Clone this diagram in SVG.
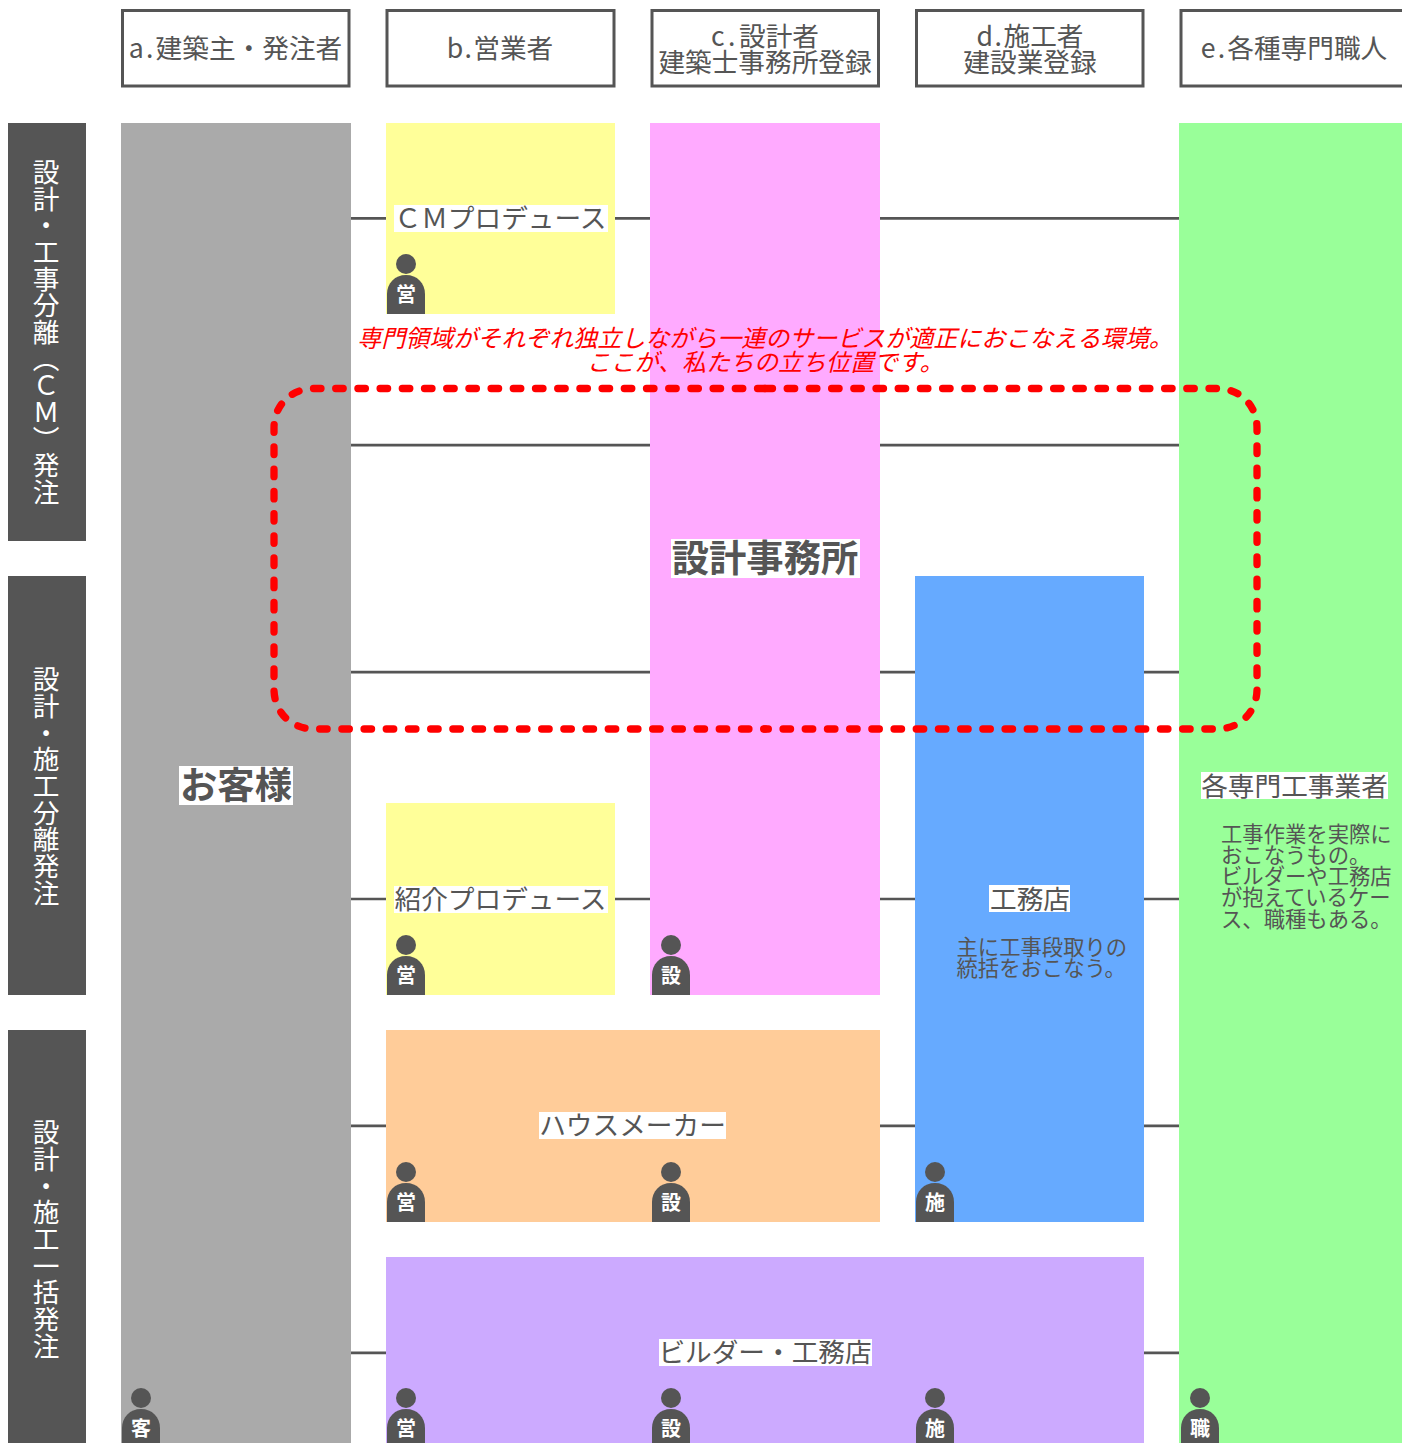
<svg xmlns="http://www.w3.org/2000/svg" width="1402" height="1443" viewBox="0 0 1402 1443">
<style>
text{font-family:"Noto Sans CJK JP","Noto Sans",sans-serif;fill:#555;text-anchor:middle;font-size:26.67px}
.hd{fill:#fff;stroke:#555;stroke-width:3}
.bar{fill:#555}
.vt{fill:#fff;writing-mode:vertical-rl}
.lbl{fill:#fff}
.sm{font-size:21.33px;text-anchor:start}
.big{font-size:37.33px;font-weight:700}
.red{fill:#f00;font-size:24px;font-style:italic}
.ch{fill:#fff;font-size:20px;font-weight:700}
.p{fill:#555}
.dash{fill:none;stroke:#f00;stroke-width:7.3;stroke-linecap:round;stroke-dasharray:7.5 14.7}
</style>
<defs>
<g id="person"><circle class="p" cx="20" cy="10" r="10"/><path class="p" d="M1 60V40C1 29 9 21 20 21S39 29 39 40V60Z"/></g>
</defs>
<g id="connectors" stroke="#555" stroke-width="2.67" fill="none">
<path d="M351 218.300H1179M351 445.200H1179M351 672.100H1179M351 899H1179M351 1125.900H1179M351 1352.800H1179"/>
</g>
<g id="head-a"><rect class="hd" x="122.500" y="10.500" width="226.500" height="75.500"/><text x="235.500" y="58"><tspan letter-spacing="2.2">a.</tspan>建築主・発注者</text></g>
<g id="head-b"><rect class="hd" x="387" y="10.500" width="227" height="75.500"/><text x="500" y="58"><tspan letter-spacing="1.5">b.</tspan>営業者</text></g>
<g id="head-c"><rect class="hd" x="652" y="10.500" width="226.500" height="75.500"/><text x="765" y="46"><tspan letter-spacing="3.5">c.</tspan>設計者</text><text x="765" y="71.500">建築士事務所登録</text></g>
<g id="head-d"><rect class="hd" x="916.500" y="10.500" width="226.500" height="75.500"/><text x="1030" y="46"><tspan letter-spacing="1.5">d.</tspan>施工者</text><text x="1030" y="71.500">建設業登録</text></g>
<g id="head-e"><rect class="hd" x="1181" y="10.500" width="226" height="75.500"/><text x="1294" y="58"><tspan letter-spacing="2.2">e.</tspan>各種専門職人</text></g>
<g id="side-1"><rect class="bar" x="8" y="123" width="78" height="418"/><text class="vt" x="46" y="332">設計・工事分離（ＣＭ）発注</text></g>
<g id="side-2"><rect class="bar" x="8" y="576" width="78" height="419"/><text class="vt" x="46" y="786">設計・施工分離発注</text></g>
<g id="side-3"><rect class="bar" x="8" y="1030" width="78" height="413"/><text class="vt" x="46" y="1239">設計・施工一括発注</text></g>
<g id="client"><rect x="121" y="123" width="230" height="1320" fill="#aaa"/><rect class="lbl" x="179" y="766" width="114" height="39"/><text class="big" x="236" y="799">お客様</text><use href="#person" x="121" y="1388"/><text class="ch" x="141" y="1436">客</text></g>
<g id="cm"><rect x="386" y="123" width="229" height="191" fill="#ff9"/><rect class="lbl" x="394" y="205" width="214" height="27"/><text x="500.500" y="228">ＣＭプロデュース</text><use href="#person" x="386" y="254"/><text class="ch" x="406" y="302">営</text></g>
<g id="referral"><rect x="386" y="803" width="229" height="192" fill="#ff9"/><rect class="lbl" x="394" y="886" width="214" height="27"/><text x="500.500" y="909">紹介プロデュース</text><use href="#person" x="386" y="935"/><text class="ch" x="406" y="983">営</text></g>
<g id="design-office"><rect x="650" y="123" width="230" height="872" fill="#faf"/><rect class="lbl" x="671" y="539" width="189" height="39"/><text class="big" x="765" y="572">設計事務所</text><use href="#person" x="651" y="935"/><text class="ch" x="671" y="983">設</text></g>
<g id="contractor"><rect x="915" y="576" width="229" height="646" fill="#6af"/><rect class="lbl" x="989" y="885" width="81" height="27"/><text x="1030" y="909">工務店</text><text class="sm" x="956.500" y="955">主に工事段取りの</text><text class="sm" x="956.500" y="976">統括をおこなう。</text><use href="#person" x="915" y="1162"/><text class="ch" x="935" y="1210">施</text></g>
<g id="trades"><rect x="1179" y="123" width="223" height="1320" fill="#9f9"/><rect class="lbl" x="1201" y="772" width="187" height="27"/><text x="1294.500" y="796">各専門工事業者</text><text class="sm" x="1221" y="842">工事作業を実際に</text><text class="sm" x="1221" y="863">おこなうもの。</text><text class="sm" x="1221" y="884">ビルダーや工務店</text><text class="sm" x="1221" y="905">が抱えているケー</text><text class="sm" x="1221" y="927">ス、職種もある。</text><use href="#person" x="1180" y="1388"/><text class="ch" x="1200" y="1436">職</text></g>
<g id="house-maker"><rect x="386" y="1030" width="494" height="192" fill="#fc9"/><rect class="lbl" x="539" y="1112" width="187" height="27"/><text x="632.500" y="1135">ハウスメーカー</text><use href="#person" x="386" y="1162"/><text class="ch" x="406" y="1210">営</text><use href="#person" x="651" y="1162"/><text class="ch" x="671" y="1210">設</text></g>
<g id="builder"><rect x="386" y="1257" width="758" height="186" fill="#caf"/><rect class="lbl" x="659" y="1339" width="213" height="27"/><text x="765" y="1362">ビルダー・工務店</text><use href="#person" x="386" y="1388"/><text class="ch" x="406" y="1436">営</text><use href="#person" x="651" y="1388"/><text class="ch" x="671" y="1436">設</text><use href="#person" x="915" y="1388"/><text class="ch" x="935" y="1436">施</text></g>
<g id="position"><text class="red" x="765" y="347">専門領域がそれぞれ独立しながら一連のサービスが適正におこなえる環境。</text><text class="red" x="765" y="371">ここが、私たちの立ち位置です。</text><path class="dash" d="M765 388.500H1217C1240 388.500 1257 405 1257 428V689C1257 712 1240 729 1217 729H765"/><path class="dash" d="M765 388.500H314C291 388.500 274 405 274 428V689C274 712 291 729 314 729H765"/></g>
</svg>
